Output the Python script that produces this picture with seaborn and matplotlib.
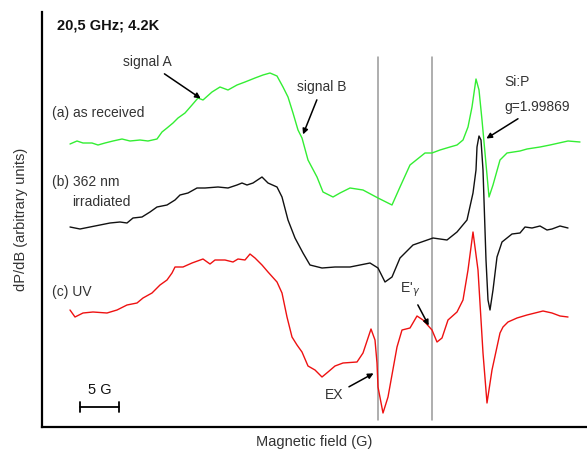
import numpy as np
import pandas as pd
import seaborn as sns
import matplotlib.pyplot as plt

# Traces (field offset in trace units, 39 units = 5 G;
# signal in arbitrary units, curves stacked with offsets)
field_a = [28, 35, 41, 50, 56, 63, 71, 80, 88, 98, 106, 115, 120, 125, 131, 136, 143, 150, 156,
           161, 170, 178, 186, 195, 203, 213, 221, 228, 235, 241, 246, 251, 256, 260, 266, 275,
           281, 291, 298, 308, 321, 336, 344, 350, 358, 368, 383, 390, 398, 408, 415, 421, 426,
           430, 434, 437, 440, 443, 447, 451, 458, 465, 478, 485, 498, 508, 526, 538]
signal_a = [283, 286, 284, 284, 282, 284, 286, 288, 286, 287, 286, 288, 295, 299, 304, 309, 314, 322, 329,
            327, 335, 340, 337, 342, 345, 349, 352, 354, 351, 340, 330, 314, 297, 289, 267, 250,
            235, 230, 234, 239, 237, 229, 225, 222, 240, 262, 274, 274, 277, 280, 282, 287, 300,
            320, 348, 337, 307, 274, 230, 242, 267, 274, 276, 278, 280, 282, 286, 285]

field_b = [28, 38, 48, 58, 68, 78, 85, 91, 100, 108, 115, 125, 133, 138, 146, 155, 163, 176, 186,
           195, 200, 205, 211, 220, 226, 235, 240, 246, 253, 261, 268, 280, 293, 308, 328, 336,
           343, 350, 358, 371, 391, 405, 415, 425, 431, 434, 435, 437, 439, 441, 442, 444, 446,
           448, 451, 455, 460, 465, 470, 478, 483, 490, 498, 505, 510, 518, 526]
signal_b = [200, 198, 200, 202, 204, 205, 204, 209, 210, 215, 220, 222, 227, 232, 234, 239, 239, 240, 239,
            242, 244, 242, 244, 250, 244, 240, 230, 207, 189, 174, 162, 159, 160, 160, 164, 159,
            145, 150, 169, 182, 189, 187, 195, 207, 234, 257, 280, 291, 287, 257, 227, 167, 127,
            117, 137, 170, 185, 189, 193, 194, 200, 199, 201, 197, 198, 201, 199]

field_c = [28, 33, 41, 51, 65, 75, 85, 95, 101, 110, 118, 125, 130, 133, 141, 150, 161, 168, 173,
           183, 191, 196, 203, 208, 213, 220, 226, 235, 240, 245, 250, 255, 260, 266, 273, 280,
           286, 293, 301, 315, 321, 329, 333, 335, 336, 341, 346, 355, 360, 368, 375, 381, 390,
           395, 400, 406, 415, 421, 426, 431, 436, 441, 445, 450, 458, 461, 466, 475, 485, 493,
           501, 510, 518, 526]
signal_c = [117, 110, 114, 115, 114, 117, 122, 124, 129, 134, 142, 147, 154, 160, 160, 164, 168, 163, 167,
            167, 165, 168, 167, 173, 169, 162, 155, 145, 134, 110, 90, 82, 75, 61, 57, 50,
            55, 61, 64, 65, 74, 98, 87, 64, 40, 14, 30, 80, 97, 99, 111, 107, 97,
            85, 89, 107, 115, 127, 157, 195, 157, 74, 24, 57, 94, 100, 105, 109, 112, 114,
            116, 114, 111, 110]

labels = ["(a) as received", "(b) 362 nm\nirradiated", "(c) UV"]
colors = ["#33ee33", "#111111", "#ee1111"]
marker_lines = [336, 390]   # vertical guides through EX and E'gamma
units_per_gauss = 7.8

df = pd.concat([
    pd.DataFrame({"field": field_a, "signal": signal_a, "sample": labels[0]}),
    pd.DataFrame({"field": field_b, "signal": signal_b, "sample": labels[1]}),
    pd.DataFrame({"field": field_c, "signal": signal_c, "sample": labels[2]}),
])

sns.set_style("white")
plt.rcParams["font.family"] = ["Liberation Sans", "DejaVu Sans"]

fig = plt.figure(figsize=(5.87, 4.54), dpi=100)
ax = fig.add_axes([42 / 587, 27 / 454, 545 / 587, 415 / 454])

sns.lineplot(data=df, x="field", y="signal", hue="sample", palette=dict(zip(labels, colors)),
             sort=False, estimator=None, legend=False, linewidth=1.0, ax=ax)

for xv in marker_lines:
    ax.plot([xv, xv], [7, 370], color="#999999", linewidth=1.1, zorder=0)

ax.set_xlim(0, 545)
ax.set_ylim(0, 415)
ax.set_xticks([])
ax.set_yticks([])
for side in ["top", "right"]:
    ax.spines[side].set_visible(False)
for side in ["left", "bottom"]:
    ax.spines[side].set_color("black")
    ax.spines[side].set_linewidth(1.6)

txt = "#333333"
ax.set_xlabel("Magnetic field (G)", fontsize=10.5, color=txt, labelpad=6)
ax.set_ylabel("dP/dB (arbitrary units)", fontsize=10.5, color=txt, labelpad=10)

ax.text(15, 402, "20,5 GHz; 4.2K", fontsize=10.5, fontweight="bold", va="center", color="#111111")
ax.text(10, 314, labels[0], fontsize=10, va="center", color=txt)
ax.text(10, 245, "(b) 362 nm", fontsize=10, va="center", color=txt)
ax.text(30, 225, "irradiated", fontsize=10, va="center", color=txt)
ax.text(10, 135, labels[2], fontsize=10, va="center", color=txt)

arrow = dict(arrowstyle="-|>", color="black", lw=1.1, mutation_scale=8)
ax.annotate("signal A", xy=(161, 327), xytext=(105, 365), fontsize=10, color=txt,
            ha="center", va="center", arrowprops=arrow)
ax.annotate("signal B", xy=(260, 290), xytext=(280, 340), fontsize=10, color=txt,
            ha="center", va="center", arrowprops=arrow)
ax.text(462, 345, "Si:P", fontsize=10, va="center", color=txt)
ax.annotate("g=1.99869", xy=(442, 287), xytext=(462, 320), fontsize=10, color=txt,
            va="center", arrowprops=arrow)
ax.annotate("EX", xy=(334, 55), xytext=(292, 32), fontsize=10, color=txt,
            ha="center", va="center", arrowprops=arrow)
ax.annotate(r"E'$_\gamma$", xy=(388, 99), xytext=(368, 137), fontsize=10, color=txt,
            ha="center", va="center", arrowprops=arrow)

# 5 G scale bar
x0 = 38
ax.plot([x0, x0 + 5 * units_per_gauss], [20, 20], color="black", lw=1.3)
ax.plot([x0, x0], [15, 25], color="black", lw=1.3)
ax.plot([x0 + 5 * units_per_gauss] * 2, [15, 25], color="black", lw=1.3)
ax.text(x0 + 2.5 * units_per_gauss, 37, "5 G", fontsize=10.5, ha="center", va="center", color="#111111")

plt.savefig("out.png", dpi=100)
plt.close()
